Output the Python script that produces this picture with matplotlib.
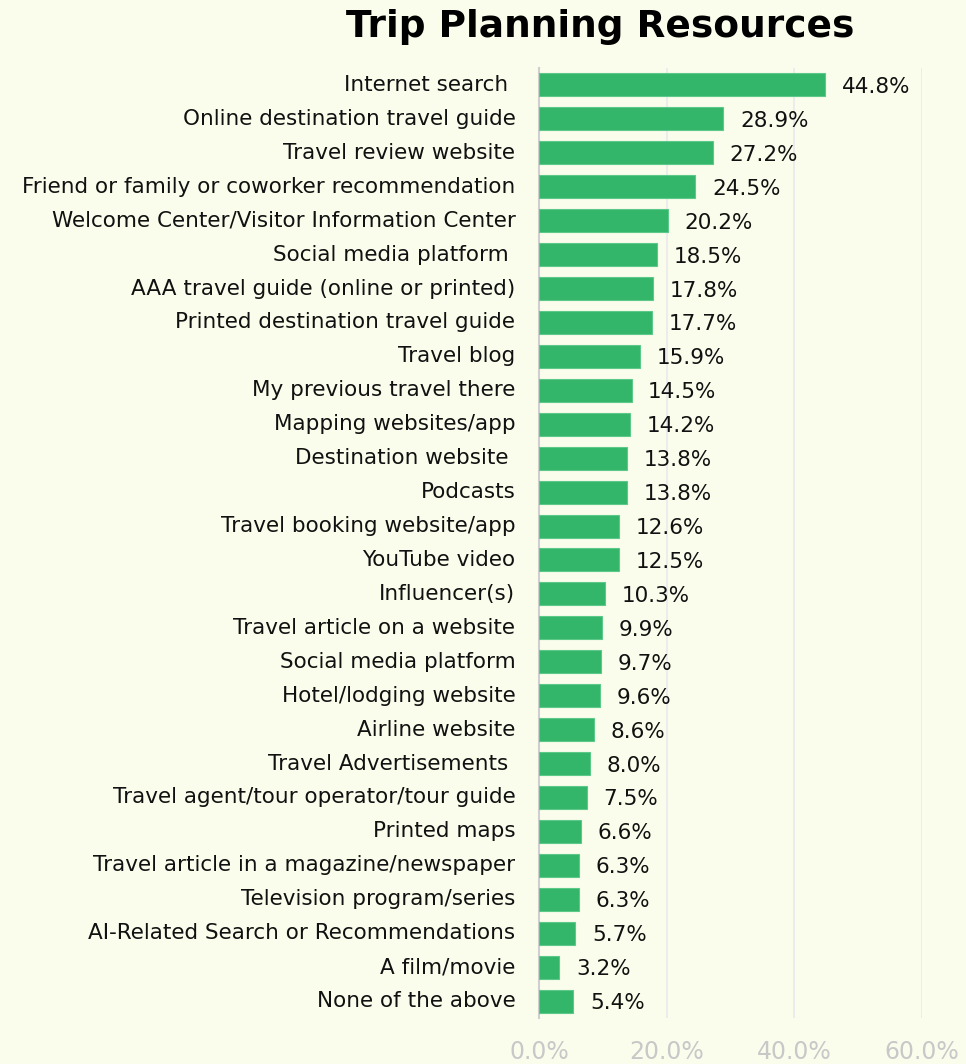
import matplotlib.pyplot as plt

labels = [
    "Internet search ", "Online destination travel guide", "Travel review website",
    "Friend or family or coworker recommendation", "Welcome Center/Visitor Information Center",
    "Social media platform ", "AAA travel guide (online or printed)",
    "Printed destination travel guide", "Travel blog", "My previous travel there",
    "Mapping websites/app", "Destination website ", "Podcasts",
    "Travel booking website/app", "YouTube video", "Influencer(s)",
    "Travel article on a website", "Social media platform", "Hotel/lodging website",
    "Airline website", "Travel Advertisements ", "Travel agent/tour operator/tour guide",
    "Printed maps", "Travel article in a magazine/newspaper", "Television program/series",
    "AI-Related Search or Recommendations", "A film/movie", "None of the above",
]
values = [44.8, 28.9, 27.2, 24.5, 20.2, 18.5, 17.8, 17.7, 15.9, 14.5, 14.2, 13.8, 13.8,
          12.6, 12.5, 10.3, 9.9, 9.7, 9.6, 8.6, 8.0, 7.5, 6.6, 6.3, 6.3, 5.7, 3.2, 5.4]
xticks = [0, 20, 40, 60]

bg = "#fbfdec"
green = "#33b56a"

fig = plt.figure(figsize=(9.66, 10.64), dpi=100, facecolor=bg)
ax = fig.add_axes([539 / 966, 46 / 1064, (922 - 539) / 966, (1018 - 68) / 1064])
ax.set_facecolor(bg)

pos = list(range(len(labels)))
ax.barh(pos, values, height=0.68, color=green, edgecolor="#5cc88a", linewidth=0.8, zorder=3)
for p, v in zip(pos, values):
    ax.text(v + 2.6, p, f"{v:.1f}%", va="center_baseline", ha="left", fontsize=15.5,
            color="#111111", family="DejaVu Sans")

ax.set_ylim(len(labels) - 0.5, -0.5)
ax.set_xlim(0, 60)
ax.set_yticks(pos)
ax.set_yticklabels(labels, fontsize=15.5, color="#111111", family="DejaVu Sans",
                   va="center")
ax.set_xticks(xticks)
ax.set_xticklabels([f"{t:.1f}%" for t in xticks], fontsize=17, color="#c8c8c8",
                   family="DejaVu Sans")
ax.tick_params(axis="y", length=0, pad=17)
ax.tick_params(axis="x", length=0, pad=16)
ax.grid(axis="x", color="#ececec", linewidth=1.5, zorder=0)
for s in ["top", "right", "bottom"]:
    ax.spines[s].set_visible(False)
ax.spines["left"].set_color("#cfcfcf")
ax.spines["left"].set_linewidth(1.5)

fig.text(600 / 966, 1 - 37 / 1064, "Trip Planning Resources", ha="center", va="baseline",
         fontsize=27, fontweight="heavy", color="#000000", family="DejaVu Sans")

plt.savefig("out.png", dpi=100, facecolor=bg)
